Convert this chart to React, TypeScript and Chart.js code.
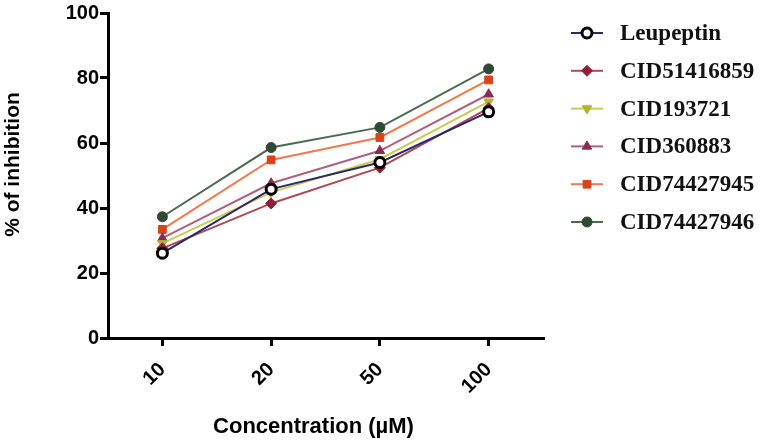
import React, { useEffect, useRef } from "react";
import { Chart, registerables } from "chart.js";
import { drawPoint } from "chart.js/helpers";

Chart.register(...registerables);

const categories = ["10", "20", "50", "100"];
const seriesNames = ["Leupeptin", "CID51416859", "CID193721", "CID360883", "CID74427945", "CID74427946"];
const leupeptin = [26.1, 45.8, 54.0, 69.6];
const cid51416859 = [27.6, 41.4, 52.4, 70.7];
const cid193721 = [29.1, 44.8, 55.0, 72.7];
const cid360883 = [30.7, 47.6, 57.6, 75.0];
const cid74427945 = [33.4, 54.8, 61.7, 79.4];
const cid74427946 = [37.3, 58.6, 64.8, 82.8];
const yTicks = [0, 20, 40, 60, 80, 100];
const xTitle = "Concentration (µM)";
const yTitle = "% of inhibition";

const seriesValues = [leupeptin, cid51416859, cid193721, cid360883, cid74427945, cid74427946];
const lineColors = ["#2a2a6a", "#b04858", "#c9cc52", "#b0607e", "#f07a4c", "#4c6a52"];
const markerFill = ["#ffffff", "#8e1e3c", "#b3b42e", "#8a2a56", "#d8431c", "#2e4a35"];
const markerBorder = ["#000000", "#8e1e3c", "#b3b42e", "#8a2a56", "#d8431c", "#2e4a35"];
const markerStyle = ["circle", "rectRot", "triangle", "triangle", "rect", "circle"];
const markerRotation = [0, 0, 180, 0, 0, 0];
const markerRadius = [5, 5.5, 5.5, 5.5, 5.5, 5];
const markerBorderWidth = [3, 1, 1, 1, 1, 1];

const AXIS_FONT = "'Liberation Sans', Arial, sans-serif";

const sideLegend = {
  id: "sideLegend",
  afterDraw(chart: any) {
    const ctx = chart.ctx;
    const area = chart.chartArea;
    const x0 = area.right + 28;
    ctx.save();
    chart.data.datasets.forEach((ds: any, i: number) => {
      const y = 33 + i * 37.8;
      ctx.strokeStyle = ds.borderColor;
      ctx.lineWidth = 2;
      ctx.beginPath();
      ctx.moveTo(x0, y);
      ctx.lineTo(x0 + 32, y);
      ctx.stroke();
      ctx.fillStyle = ds.pointBackgroundColor;
      ctx.strokeStyle = ds.pointBorderColor;
      ctx.lineWidth = ds.pointBorderWidth;
      drawPoint(ctx, {
        pointStyle: ds.pointStyle,
        rotation: ds.pointRotation,
        radius: ds.pointRadius,
        borderWidth: ds.pointBorderWidth,
      } as any, x0 + 16, y);
      ctx.fillStyle = "#111111";
      ctx.font = "bold 23px 'Liberation Serif', serif";
      ctx.textAlign = "left";
      ctx.textBaseline = "middle";
      ctx.fillText(ds.label, x0 + 49, y + 1);
    });
    // axis titles
    ctx.fillStyle = "#000";
    ctx.textAlign = "center";
    ctx.textBaseline = "middle";
    ctx.font = `bold 22px ${AXIS_FONT}`;
    ctx.fillText(xTitle, (area.left + area.right) / 2 - 12, chart.height - 13);
    ctx.translate(13, (area.top + area.bottom) / 2 - 11);
    ctx.rotate(-Math.PI / 2);
    ctx.font = `bold 21px ${AXIS_FONT}`;
    ctx.fillText(yTitle, 0, 0);
    ctx.restore();
  },
};

export default function App() {
  const ref = useRef<HTMLCanvasElement | null>(null);
  useEffect(() => {
    if (!ref.current) return;
    const chart = new Chart(ref.current, {
      type: "line",
      data: {
        labels: categories,
        datasets: seriesNames.map((name, i) => ({
          label: name,
          data: seriesValues[i],
          borderColor: lineColors[i],
          borderWidth: 2,
          backgroundColor: markerFill[i],
          pointBackgroundColor: markerFill[i],
          pointBorderColor: markerBorder[i],
          pointBorderWidth: markerBorderWidth[i],
          pointStyle: markerStyle[i] as any,
          pointRotation: markerRotation[i],
          pointRadius: markerRadius[i],
          tension: 0,
          fill: false,
        })),
      },
      options: {
        animation: false,
        responsive: true,
        maintainAspectRatio: false,
        layout: { padding: { left: 0, top: 13, right: 220, bottom: 0 } },
        plugins: {
          legend: { display: false },
          tooltip: { enabled: false },
        },
        scales: {
          x: {
            type: "category",
            offset: true,
            afterFit: (s: any) => { s.height = 102; },
            border: { display: true, color: "#000", width: 3 },
            grid: { display: true, drawOnChartArea: false, drawTicks: true, tickLength: 8, color: "#000", lineWidth: 3 },
            ticks: {
              color: "#000",
              font: { family: AXIS_FONT, weight: "bold", size: 20 },
              minRotation: 45,
              maxRotation: 45,
              padding: 12,
            },
          },
          y: {
            min: 0,
            max: 100,
            afterFit: (s: any) => { s.width = 108; },
            afterBuildTicks: (s: any) => { s.ticks = yTicks.map((v) => ({ value: v })); },
            border: { display: true, color: "#000", width: 3 },
            grid: { display: true, drawOnChartArea: false, drawTicks: true, tickLength: 8, color: "#000", lineWidth: 3 },
            ticks: {
              color: "#000",
              font: { family: AXIS_FONT, weight: "bold", size: 20 },
              padding: 1,
            },
          },
        },
      },
      plugins: [sideLegend],
    });
    return () => chart.destroy();
  }, []);
  return (
    <div style={{ position: "absolute", left: 0, top: 0, width: 763, height: 440 }}>
      <canvas ref={ref} />
    </div>
  );
}
